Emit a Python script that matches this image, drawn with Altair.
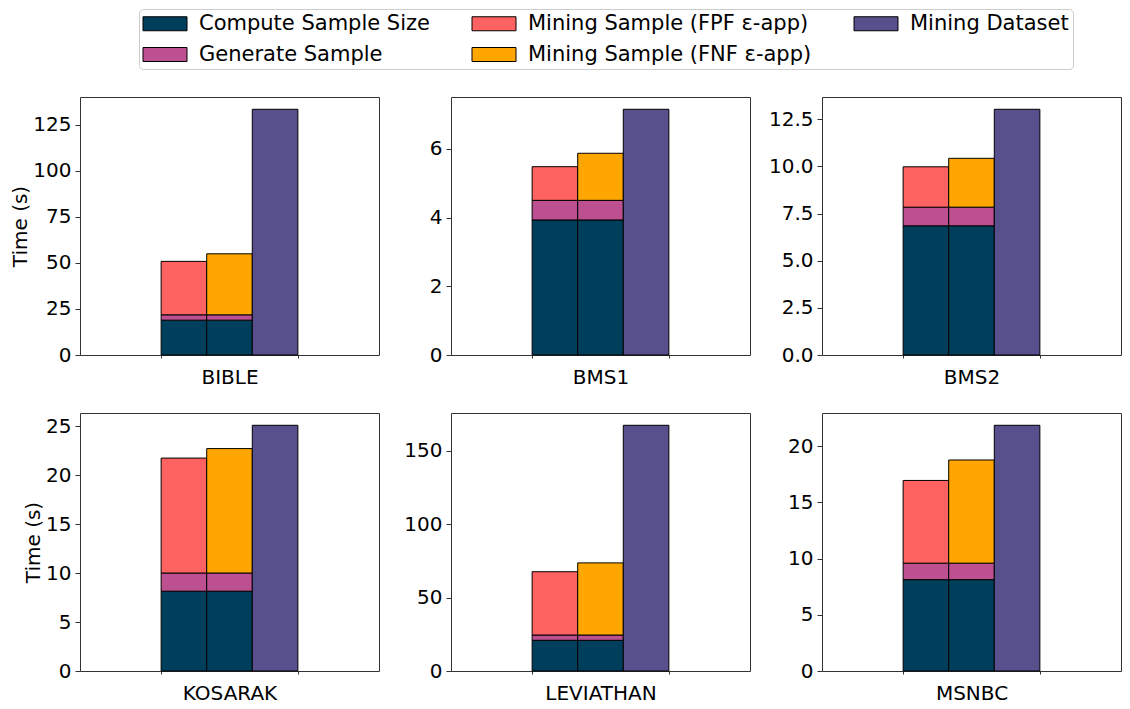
import altair as alt
import pandas as pd

# ---- data ----
datasets = ["BIBLE", "BMS1", "BMS2", "KOSARAK", "LEVIATHAN", "MSNBC"]
compute_sample_size = [18.9, 3.93, 6.85, 8.15, 20.9, 8.13]
generate_sample = [2.9, 0.57, 0.99, 1.86, 3.6, 1.47]
mining_sample_fpf = [29.0, 0.98, 2.14, 11.74, 43.1, 7.36]
mining_sample_fnf = [33.1, 1.37, 2.59, 12.71, 49.1, 9.18]
mining_dataset = [133.3, 7.15, 13.03, 25.1, 167.3, 21.87]

y_ticks = [
    [0, 25, 50, 75, 100, 125],
    [0, 2, 4, 6],
    [0, 2.5, 5, 7.5, 10, 12.5],
    [0, 5, 10, 15, 20, 25],
    [0, 50, 100, 150],
    [0, 5, 10, 15, 20],
]
y_formats = ["d", "d", ".1f", "d", "d", "d"]

labels = [
    "Compute Sample Size",
    "Generate Sample",
    "Mining Sample (FPF ε-app)",
    "Mining Sample (FNF ε-app)",
    "Mining Dataset",
]
colors = ["#003f5c", "#bc5090", "#ff6361", "#ffa600", "#58508d"]
slots = ["fpf", "fnf", "full"]
x_margin = 1.78  # empty space either side of the group, in bar widths

rows = []
for i, name in enumerate(datasets):
    stacks = [
        ("fpf", [(labels[0], compute_sample_size[i]), (labels[1], generate_sample[i]), (labels[2], mining_sample_fpf[i])]),
        ("fnf", [(labels[0], compute_sample_size[i]), (labels[1], generate_sample[i]), (labels[3], mining_sample_fnf[i])]),
        ("full", [(labels[4], mining_dataset[i])]),
    ]
    for slot, parts in stacks:
        pos = slots.index(slot)
        base = 0.0
        for comp, val in parts:
            rows.append(dict(dataset=name, slot=slot, pos=pos, pos_end=pos + 1,
                             component=comp, y0=base, y1=base + val))
            base += val
df = pd.DataFrame(rows)

FONT = "DejaVu Sans"
PANEL_W = 299
PANEL_H = 258


def panel(i, first_col, show_legend):
    sub = df[df["dataset"] == datasets[i]]
    ymax = mining_dataset[i] * 1.05
    yaxis_kw = dict(
        values=y_ticks[i],
        format=y_formats[i],
        labelFontSize=20,
        tickSize=5,
        labelPadding=4,
        grid=False,
        domain=False,
    )
    if first_col:
        yaxis_kw.update(title="Time (s)", titleFontSize=20, titleFontWeight="normal", titlePadding=2)
    else:
        yaxis_kw.update(title="")
    color_kw = dict(scale=alt.Scale(domain=labels, range=colors))
    if show_legend:
        color_kw["legend"] = alt.Legend(
            title=None,
            orient="none",
            legendX=59,
            legendY=-88,
            columns=3,
            symbolType="M-1.5,-1H4.786V1H-1.5Z",
            symbolSize=196,
            symbolStrokeColor="black",
            symbolStrokeWidth=1,
            symbolOpacity=1,
            labelFontSize=21,
            labelFont=FONT,
            labelColor="black",
            labelOffset=35,
            labelLimit=500,
            columnPadding=40,
            rowPadding=9,
            padding=4,
            strokeColor="#cccccc",
            fillColor="white",
            cornerRadius=4,
        )
    else:
        color_kw["legend"] = None
    return (
        alt.Chart(sub)
        .mark_bar(stroke="black", strokeWidth=1)
        .encode(
            x=alt.X(
                "pos:Q",
                scale=alt.Scale(domain=[-x_margin, len(slots) + x_margin], nice=False, zero=False),
                axis=alt.Axis(
                    values=[0, len(slots)],
                    labels=False,
                    ticks=True,
                    tickSize=3,
                    grid=False,
                    domain=False,
                    title=datasets[i],
                    titleFontSize=20,
                    titleFontWeight="normal",
                    titlePadding=9,
                ),
            ),
            x2="pos_end:Q",
            y=alt.Y(
                "y0:Q",
                scale=alt.Scale(domain=[0, ymax], nice=False, zero=True),
                axis=alt.Axis(**yaxis_kw),
            ),
            y2="y1:Q",
            color=alt.Color("component:N", **color_kw),
        )
        .properties(width=PANEL_W, height=PANEL_H)
    )


panels = [panel(i, i % 3 == 0, i == 0) for i in range(len(datasets))]

chart = (
    alt.concat(*panels, columns=3, spacing={"row": 58, "column": 72}, bounds="flush")
    .properties(padding={"left": 2, "top": 0, "right": 0, "bottom": 0})
    .configure_view(stroke="#333333", strokeWidth=1)
    .configure_axis(
        labelFont=FONT,
        titleFont=FONT,
        labelColor="black",
        titleColor="black",
        tickColor="#333333",
    )
    .configure_legend(labelFont=FONT)
)

chart.save("out.html", embed_options={"renderer": "svg", "actions": False})
